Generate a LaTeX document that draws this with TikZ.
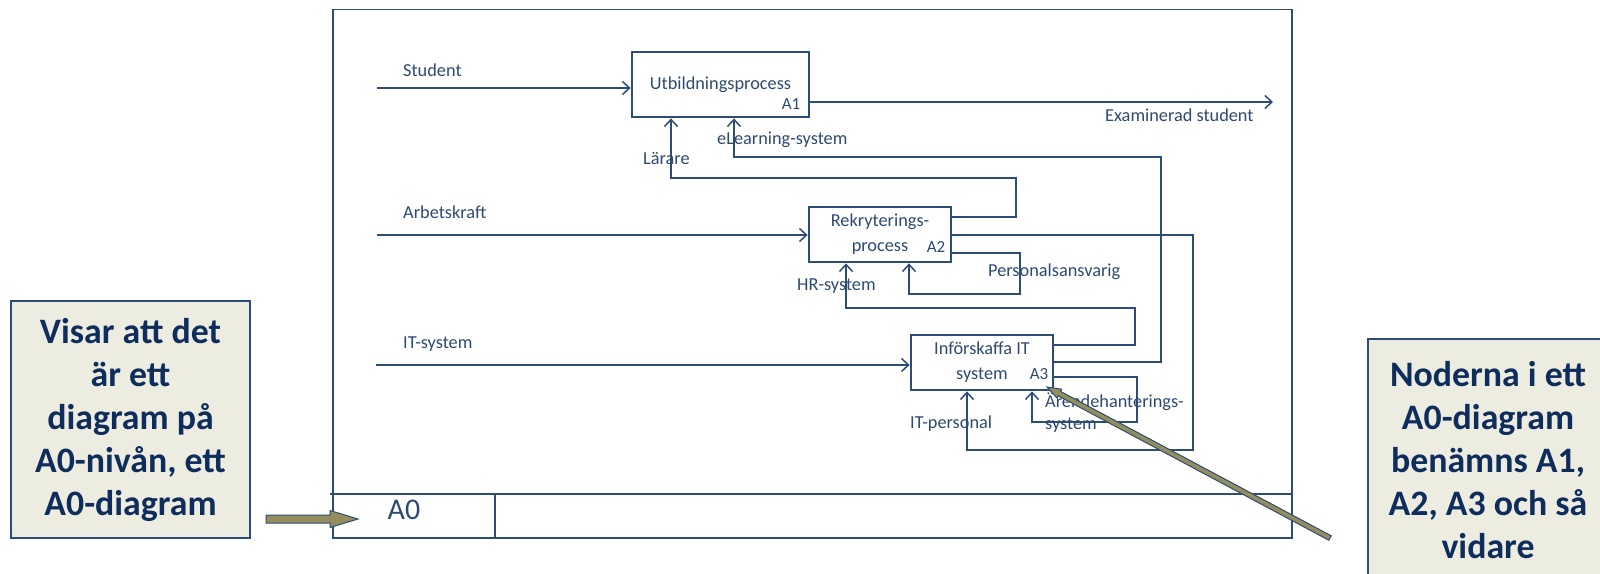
\documentclass[tikz,border=0pt]{standalone}
\usepackage{fontspec}
\setmainfont{Carlito}
\usetikzlibrary{arrows.meta}
\definecolor{ln}{HTML}{2E4C7A}
\definecolor{tx}{HTML}{2F4A72}
\definecolor{cx}{HTML}{0F2D5C}
\definecolor{cfill}{HTML}{ECECE1}
\definecolor{khaki}{HTML}{938E5B}
\begin{document}
\begin{tikzpicture}[x=1pt,y=-1pt,
  conn/.style={draw=ln, line width=1.5pt},
  arr/.style={conn, -{Straight Barb[length=7pt,width=13pt]}},
  proc/.style={draw=ln, line width=2.8pt, inner sep=0pt, align=center, text=tx, font=\fontsize{18.3}{25}\selectfont},
  lbl/.style={text=tx, inner sep=0pt, font=\fontsize{18.3}{22}\selectfont},
  alab/.style={text=tx, inner sep=0pt, font=\fontsize{17}{20}\selectfont},
  callbox/.style={draw=ln, line width=1.2pt, fill=cfill, text=cx, inner sep=0pt, align=center, font=\fontsize{35.8}{43}\selectfont\bfseries}
]
\useasboundingbox (0,0) rectangle (1600,573);
\fill[white] (0,0) rectangle (1600,573);

% frame
\draw[ln, line width=1.8pt] (333,9.5) rectangle (1292,538);
\draw[ln, line width=1.5pt] (330,494) -- (1292,494);
\draw[ln, line width=1.5pt] (495,494) -- (495,538);
\node[text=tx, inner sep=0pt, font=\fontsize{30}{34}\selectfont, anchor=mid] (a0) at (404,517) {A0};

% process boxes
\node[proc, minimum width=177pt, minimum height=65pt] (A1) at (720.5,84.5) {Utbildningsprocess};
\node[proc, minimum width=142pt, minimum height=55pt] (A2) at (880,234.5) {Rekryterings-\\process};
\node[proc, minimum width=142pt, minimum height=55pt] (A3) at (982,362.5) {Införskaffa IT\\system};
\node[alab, anchor=mid] (A1l) at (791,107) {A1};
\node[alab, anchor=mid] (A2l) at (936,250) {A2};
\node[alab, anchor=mid] (A3l) at (1039,377) {A3};

% free ends
\coordinate (inS) at (377,88);
\coordinate (outE) at (1273,102);
\coordinate (inW) at (377,235);
\coordinate (inI) at (376,365);

% inputs / output
\draw[arr] (inS) -- (inS -| A1.west);
\draw[arr] (outE -| A1.east) -- (outE);
\draw[arr] (inW) -- (inW -| A2.west);
\draw[arr] (inI) -- (inI -| A3.west);

% feedback / mechanism connectors
\draw[arr] (A2.east |- 0,217) -- (1016,217) -- (1016,178) -- (671,178) -- (A1.south -| 671,0);
\draw[arr] (A3.east |- 0,362) -- (1161,362) -- (1161,157) -- (734,157) -- (A1.south -| 734,0);
\draw[arr] (A2.east |- 0,235) -- (1193,235) -- (1193,450) -- (967,450) -- (A3.south -| 967,0);
\draw[arr] (A2.east |- 0,253) -- (1020,253) -- (1020,294) -- (909,294) -- (A2.south -| 909,0);
\draw[arr] (A3.east |- 0,345) -- (1135,345) -- (1135,308) -- (846,308) -- (A2.south -| 846,0);
\draw[arr] (A3.east |- 0,377) -- (1137,377) -- (1137,422) -- (1032,422) -- (A3.south -| 1032,0);

% labels
\node[lbl, anchor=mid west] (lS) at (403,74) {Student};
\node[lbl, anchor=mid west] (lE) at (1105,119) {Examinerad student};
\node[lbl, anchor=mid west] (lL) at (643,162) {Lärare};
\node[lbl, anchor=mid west] (leL) at (717,142) {eLearning-system};
\node[lbl, anchor=mid west] (lW) at (403,216) {Arbetskraft};
\node[lbl, anchor=mid west] (lP) at (988,274) {Personalsansvarig};
\node[lbl, anchor=mid west] (lH) at (797,288) {HR-system};
\node[lbl, anchor=mid west] (lI) at (403,346) {IT-system};
\node[lbl, anchor=mid west] (lIP) at (910,426) {IT-personal};
\node[lbl, anchor=mid west] (lA1) at (1045,405) {Ärendehanterings-};
\node[lbl, anchor=mid west] (lA2) at (1045,427) {system};

% callouts
\node[callbox, minimum width=239pt, minimum height=237pt] (cL) at (130.5,419.5) {Visar att det\\är ett\\diagram på\\A0-nivån, ett\\A0-diagram};
\node[callbox, minimum width=240pt, minimum height=242pt] (cR) at (1488,460) {Noderna i ett\\A0-diagram\\benämns A1,\\A2, A3 och så\\vidare};

% fat arrow to A0
\draw[ln, line width=1pt, fill=khaki] (266,515) -- (330,515) -- (330,510.5) -- (358,519) -- (330,527.5) -- (330,523) -- (266,523) -- cycle;

% pointer to A3
\draw[ln, line width=1pt, fill=khaki, line join=miter] (1047,387) -- (1061.7,389.2) -- (1060.5,391.4) -- (1331.2,535.8) -- (1328.8,540.2) -- (1058.2,395.8) -- (1057.0,398.0) -- cycle;
\end{tikzpicture}
\end{document}
